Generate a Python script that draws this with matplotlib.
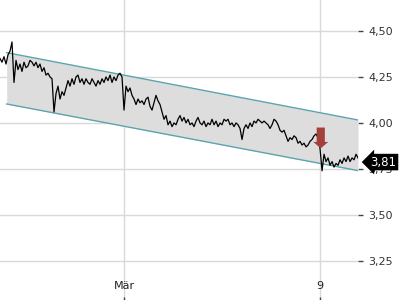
import numpy as np
import matplotlib
matplotlib.use("Agg")
import matplotlib.pyplot as plt

# ================== DATA ==================
# intraday prices, one sample every ~1/16 trading day
price = [
    4.35, 4.33, 4.36, 4.32, 4.37, 4.39, 4.44, 4.22, 4.34, 4.29,
    4.32, 4.28, 4.33, 4.30, 4.31, 4.34, 4.33, 4.31, 4.33, 4.30,
    4.32, 4.28, 4.30, 4.26, 4.27, 4.25, 4.24, 4.06, 4.16, 4.20,
    4.13, 4.17, 4.15, 4.19, 4.23, 4.20, 4.24, 4.21, 4.25, 4.26,
    4.22, 4.24, 4.21, 4.24, 4.22, 4.21, 4.24, 4.22, 4.20, 4.23,
    4.21, 4.24, 4.22, 4.25, 4.23, 4.26, 4.22, 4.25, 4.23, 4.26,
    4.27, 4.25, 4.07, 4.20, 4.17, 4.19, 4.15, 4.13, 4.10, 4.13,
    4.11, 4.12, 4.10, 4.13, 4.14, 4.09, 4.07, 4.11, 4.15, 4.12,
    4.10, 4.06, 4.02, 4.04, 3.99, 4.01, 3.98, 4.00, 3.99, 4.02,
    4.04, 4.01, 4.03, 4.00, 4.02, 3.99, 4.00, 3.98, 4.01, 4.03,
    4.00, 3.99, 4.01, 3.98, 4.00, 3.99, 4.02, 3.99, 4.01, 3.98,
    4.00, 3.99, 4.02, 4.01, 4.02, 3.99, 4.00, 3.98, 4.00, 3.99,
    3.97, 3.91, 3.97, 3.99, 3.97, 4.00, 3.98, 4.01, 4.00, 4.02,
    4.01, 4.00, 4.01, 4.00, 3.99, 3.97, 3.99, 4.02, 4.01, 3.99,
    3.96, 3.95, 3.96, 3.93, 3.90, 3.92, 3.91, 3.93, 3.92, 3.89,
    3.90, 3.88, 3.89, 3.87, 3.88, 3.90, 3.91, 3.93, 3.94, 3.92,
    3.86, 3.74, 3.83, 3.79, 3.81, 3.77, 3.79, 3.76, 3.78, 3.77,
    3.80, 3.78, 3.81, 3.79, 3.82, 3.79, 3.81, 3.80, 3.83, 3.81,
]
samples_per_day = 16.33
days = np.arange(len(price)) / samples_per_day

# trend channel (start / end)
chan_x = [0.205, 10.96]
chan_upper = [4.382, 4.016]
chan_lower = [4.103, 3.741]

# signal arrow (sell)
signal_x = 9.82
signal_top = 3.975
signal_tip = 3.862

x_ticks = [3.8, 9.8]
x_labels = ['Mär', '9']
y_ticks = [3.25, 3.50, 3.75, 4.00, 4.25, 4.50]

# ================== FIGURE ==================
fig = plt.figure(figsize=(4, 3), dpi=100)
ax = fig.add_axes([0, 0, 358 / 400, 1])
ax.set_xlim(0, 10.96)
ax.set_ylim(3.038, 4.668)

for s in ax.spines.values():
    s.set_visible(False)

ax.grid(True, color='#d9d9d9', lw=1)
ax.set_axisbelow(True)

ax.set_yticks(y_ticks)
ax.set_yticklabels([f'{v:.2f}'.replace('.', ',') for v in y_ticks])
ax.yaxis.tick_right()
ax.tick_params(axis='y', direction='out', length=3.5, width=1, color='#444444',
               labelsize=8, labelcolor='#333333', pad=4)

ax.set_xticks(x_ticks)
ax.set_xticklabels(x_labels)
ax.tick_params(axis='x', direction='in', length=2.5, width=1, color='#444444',
               labelsize=8, labelcolor='#222222', pad=-13.5)

# channel
ax.fill_between(chan_x, chan_lower, chan_upper, color='#dddddd', lw=0, zorder=1)
ax.plot(chan_x, chan_upper, color='#5aa5ad', lw=1, zorder=2)
ax.plot(chan_x, chan_lower, color='#5aa5ad', lw=1, zorder=2)

# price
ax.plot(days, price, color='black', lw=0.9, zorder=3)

# sell arrow
ax.arrow(signal_x, signal_top, 0, signal_tip - signal_top, width=0.25,
         head_width=0.46, head_length=0.035, length_includes_head=True,
         color='#a3403b', lw=0, zorder=4)

# last price label
last = price[-1]
ax.annotate(f'{last:.2f}'.replace('.', ','), xy=(1.0, last), xycoords=('axes fraction', 'data'),
            xytext=(9, -3), textcoords='offset points', va='center', ha='left',
            fontsize=8.5, color='white', annotation_clip=False, zorder=6,
            bbox=dict(boxstyle='larrow,pad=0.15', fc='black', ec='black', lw=0))

fig.savefig('out.png', dpi=100)
